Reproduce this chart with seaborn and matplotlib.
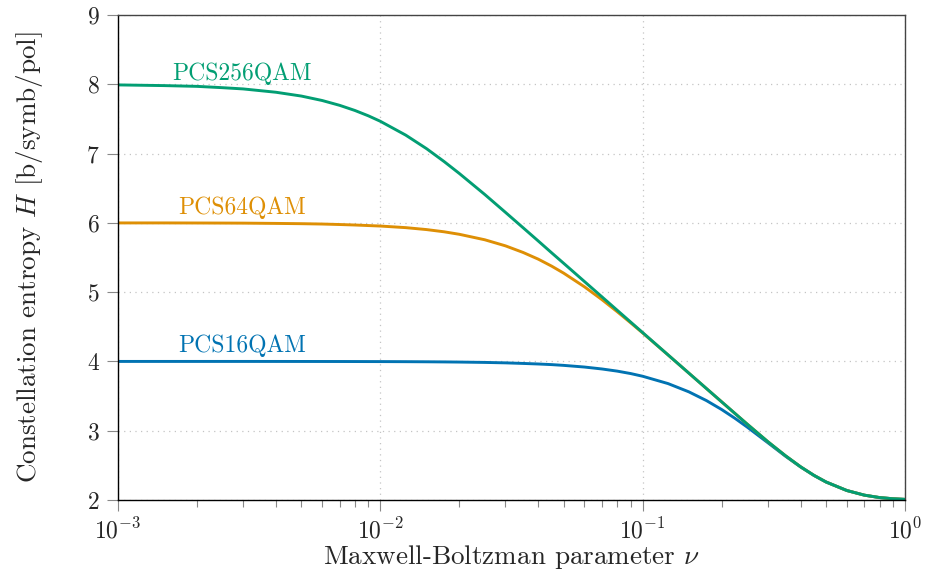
import numpy as np
import pandas as pd
import matplotlib
matplotlib.use("Agg")
import matplotlib.pyplot as plt
import seaborn as sns
from matplotlib.ticker import LogLocator, FixedLocator, NullFormatter

# ---- data ----
nu = [0.001, 0.0015, 0.002, 0.0025, 0.003, 0.004, 0.005, 0.006, 0.007, 0.008,
      0.009, 0.01, 0.0125, 0.015, 0.0175, 0.02, 0.025, 0.03, 0.035, 0.04,
      0.045, 0.05, 0.06, 0.07, 0.08, 0.09, 0.1, 0.125, 0.15, 0.175,
      0.2, 0.225, 0.25, 0.3, 0.35, 0.4, 0.45, 0.5, 0.6, 0.7,
      0.8, 0.9, 1.0]

h_256 = [7.991, 7.981, 7.970, 7.951, 7.933, 7.885, 7.830, 7.766, 7.696, 7.622,
         7.545, 7.466, 7.266, 7.071, 6.885, 6.713, 6.410, 6.151, 5.930, 5.738,
         5.567, 5.416, 5.153, 4.931, 4.738, 4.568, 4.416, 4.094, 3.831, 3.609,
         3.417, 3.248, 3.097, 2.842, 2.640, 2.479, 2.355, 2.260, 2.137, 2.070,
         2.035, 2.018, 2.009]

h_64 = [5.999, 5.999, 5.998, 5.997, 5.996, 5.992, 5.988, 5.983, 5.976, 5.969,
        5.961, 5.954, 5.931, 5.903, 5.871, 5.835, 5.756, 5.668, 5.573, 5.476,
        5.375, 5.274, 5.077, 4.891, 4.717, 4.557, 4.411, 4.093, 3.831, 3.609,
        3.417, 3.248, 3.097, 2.842, 2.640, 2.479, 2.355, 2.260, 2.137, 2.070,
        2.035, 2.018, 2.009]

h_16 = [4.000, 4.000, 4.000, 4.000, 4.000, 3.9998, 3.9995, 3.9992, 3.9989, 3.9985,
        3.998, 3.9977, 3.9964, 3.9948, 3.9929, 3.9908, 3.9857, 3.9794, 3.971, 3.963,
        3.954, 3.943, 3.919, 3.891, 3.860, 3.825, 3.786, 3.680, 3.561, 3.435,
        3.306, 3.178, 3.054, 2.827, 2.633, 2.477, 2.354, 2.260, 2.137, 2.070,
        2.035, 2.018, 2.009]

series_names = ["PCS16QAM", "PCS64QAM", "PCS256QAM"]
label_nu = [0.00169, 0.00169, 0.00161]
label_h = [4.13, 6.13, 8.06]

y_ticks = [2, 3, 4, 5, 6, 7, 8, 9]
x_ticks = [1e-3, 1e-2, 1e-1, 1e0]

df = pd.DataFrame({
    "nu": nu * 3,
    "H": h_16 + h_64 + h_256,
    "series": [series_names[0]] * len(nu) + [series_names[1]] * len(nu) + [series_names[2]] * len(nu),
})

# ---- style ----
sns.set_theme(style="ticks")
plt.rcParams["font.family"] = ["cmr10", "DejaVu Serif"]
plt.rcParams["mathtext.fontset"] = "cm"
plt.rcParams["axes.formatter.use_mathtext"] = True
plt.rcParams["axes.unicode_minus"] = False

palette = sns.color_palette("colorblind")
colors = {series_names[0]: palette[0], series_names[1]: palette[1], series_names[2]: palette[2]}

fig = plt.figure(figsize=(9.25, 5.75), dpi=100)
ax = fig.add_axes([118 / 925, 1 - 500 / 575, (905 - 118) / 925, (500 - 15) / 575])

sns.lineplot(data=df, x="nu", y="H", hue="series", hue_order=series_names,
             palette=colors, linewidth=2.1, legend=False, ax=ax, sort=True)

ax.set_xscale("log")
ax.set_xlim(1e-3, 1e0)
ax.set_ylim(2, 9)
ax.yaxis.set_major_locator(FixedLocator(y_ticks))
ax.xaxis.set_major_locator(FixedLocator(x_ticks))
ax.xaxis.set_minor_locator(LogLocator(base=10, subs=np.arange(2, 10)))
ax.xaxis.set_minor_formatter(NullFormatter())

ax.grid(True, which="major", color="#c4c4c4", linestyle=(0, (1, 3.5)), linewidth=0.9)
ax.set_axisbelow(True)

for side in ["left", "bottom"]:
    ax.spines[side].set_color("black")
    ax.spines[side].set_linewidth(1.0)
for side in ["top", "right"]:
    ax.spines[side].set_color("#444444")
    ax.spines[side].set_linewidth(1.0)

ax.tick_params(axis="both", which="major", direction="out", length=8, width=0.8,
               color="#888888", labelsize=17, pad=5)
ax.tick_params(axis="x", which="minor", direction="out", length=5, width=0.8,
               color="#888888")
ax.tick_params(axis="y", which="minor", left=False)

ax.set_xlabel(r"Maxwell-Boltzman parameter $\nu$", fontsize=19.5, labelpad=0)
ax.set_ylabel(r"Constellation entropy $H$ [b/symb/pol]", fontsize=19.5, labelpad=30)

for name, xn, yh in zip(series_names, label_nu, label_h):
    ax.text(xn, yh, name, color=colors[name], fontsize=17, ha="left", va="baseline")

fig.savefig("out.png", dpi=100)
